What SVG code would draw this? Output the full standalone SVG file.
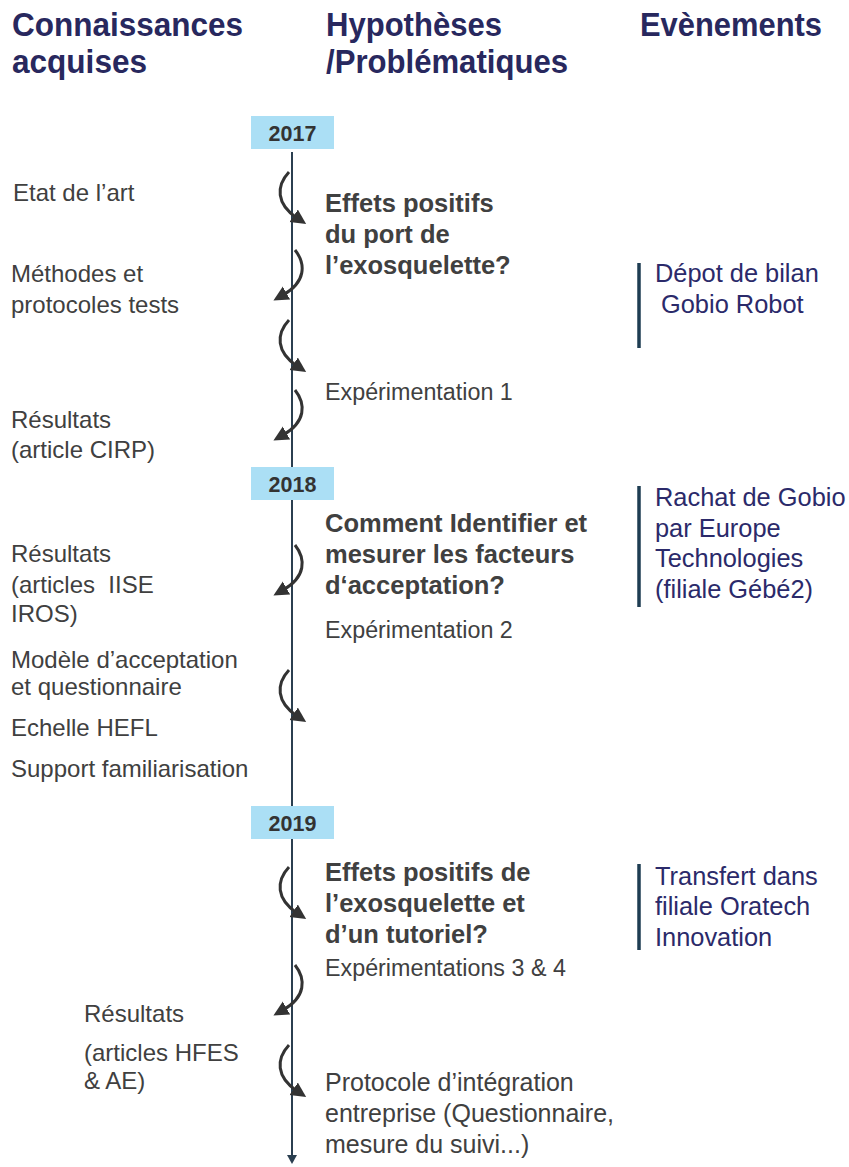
<svg xmlns="http://www.w3.org/2000/svg" width="849" height="1167" viewBox="0 0 849 1167">
<style>
.hdr{font-family:"Liberation Sans",Arial,sans-serif;font-weight:bold;font-size:34px;fill:#28285e}
.lt{font-family:"Liberation Sans",Arial,sans-serif;font-size:24px;fill:#404040}
.xp{font-family:"Liberation Sans",Arial,sans-serif;font-size:23.3px;fill:#404040}
.pr{font-family:"Liberation Sans",Arial,sans-serif;font-size:25px;fill:#404040}
.bt{font-family:"Liberation Sans",Arial,sans-serif;font-weight:bold;font-size:25.5px;fill:#404040}
.ev{font-family:"Liberation Sans",Arial,sans-serif;font-size:25.4px;fill:#2b2a6a}
.yr{font-family:"Liberation Sans",Arial,sans-serif;font-weight:bold;font-size:21.5px;fill:#333333;text-anchor:middle}
.ybox{fill:#abdff5}
.bar{stroke:#1e3d52;stroke-width:3.5}
.arc{fill:none;stroke:#333333;stroke-width:3}
</style>
<defs>
<marker id="ah" markerUnits="userSpaceOnUse" markerWidth="17" markerHeight="17" refX="4" refY="7.5" orient="auto">
<path d="M0,0 L15,7.5 L0,15 z" fill="#333333"/>
</marker>
<marker id="tl" markerUnits="userSpaceOnUse" markerWidth="12" markerHeight="12" refX="2" refY="5" orient="auto">
<path d="M0,0 L9,5 L0,10 z" fill="#2b3f50"/>
</marker>
</defs>
<g id="headers">
<text class="hdr" x="12" y="36" textLength="231" lengthAdjust="spacingAndGlyphs">Connaissances</text>
<text class="hdr" x="12" y="73" textLength="135" lengthAdjust="spacingAndGlyphs">acquises</text>
<text class="hdr" x="326" y="36" textLength="176" lengthAdjust="spacingAndGlyphs">Hypothèses</text>
<text class="hdr" x="326" y="73" textLength="242" lengthAdjust="spacingAndGlyphs">/Problématiques</text>
<text class="hdr" x="640" y="36" textLength="182" lengthAdjust="spacingAndGlyphs">Evènements</text>
</g>
<g id="connectors">
<line x1="292" y1="152" x2="292" y2="1157" stroke="#2b3f50" stroke-width="2" marker-end="url(#tl)"/>
<path class="arc" d="M289,172 C276,186 276,204 297,218" marker-end="url(#ah)"/>
<path class="arc" d="M295,250 C306,264 306,282 283,295" marker-end="url(#ah)"/>
<path class="arc" d="M289,320 C276,334 276,352 297,366" marker-end="url(#ah)"/>
<path class="arc" d="M295,390 C306,404 306,422 283,435" marker-end="url(#ah)"/>
<path class="arc" d="M295,545 C306,559 306,577 283,590" marker-end="url(#ah)"/>
<path class="arc" d="M289,670 C276,684 276,702 297,716" marker-end="url(#ah)"/>
<path class="arc" d="M289,867 C276,881 276,899 297,913" marker-end="url(#ah)"/>
<path class="arc" d="M295,965 C306,979 306,997 283,1010" marker-end="url(#ah)"/>
<path class="arc" d="M289,1045 C276,1059 276,1077 297,1091" marker-end="url(#ah)"/>
</g>
<g id="year-2017"><rect class="ybox" x="251" y="116" width="83" height="33"/><text class="yr" x="292.5" y="141">2017</text></g>
<g id="year-2018"><rect class="ybox" x="251" y="467" width="83" height="33"/><text class="yr" x="292.5" y="492">2018</text></g>
<g id="year-2019"><rect class="ybox" x="251" y="806" width="83" height="33"/><text class="yr" x="292.5" y="831">2019</text></g>
<g id="k-etat"><text class="lt" x="13" y="201">Etat de l’art</text></g>
<g id="k-methodes"><text class="lt" x="11" y="282">Méthodes et</text><text class="lt" x="11" y="313">protocoles tests</text></g>
<g id="k-resultats1"><text class="lt" x="11" y="428">Résultats</text><text class="lt" x="11" y="458">(article CIRP)</text></g>
<g id="k-resultats2"><text class="lt" x="11" y="562">Résultats</text><text class="lt" x="11" y="593" xml:space="preserve">(articles  IISE</text><text class="lt" x="11" y="622">IROS)</text></g>
<g id="k-modele"><text class="lt" x="11" y="668">Modèle d’acceptation</text><text class="lt" x="11" y="695">et questionnaire</text></g>
<g id="k-echelle"><text class="lt" x="11" y="736">Echelle HEFL</text></g>
<g id="k-support"><text class="lt" x="11" y="777">Support familiarisation</text></g>
<g id="k-resultats3"><text class="lt" x="84" y="1022">Résultats</text><text class="lt" x="84" y="1061">(articles HFES</text><text class="lt" x="84" y="1089">&amp; AE)</text></g>
<g id="h-effets1"><text class="bt" x="325" y="212">Effets positifs</text><text class="bt" x="325" y="243">du port de</text><text class="bt" x="325" y="274">l’exosquelette?</text></g>
<g id="h-exp1"><text class="xp" x="325" y="400">Expérimentation 1</text></g>
<g id="h-comment"><text class="bt" x="325" y="532">Comment Identifier et</text><text class="bt" x="325" y="563">mesurer les facteurs</text><text class="bt" x="325" y="594">d‘acceptation?</text></g>
<g id="h-exp2"><text class="xp" x="325" y="638">Expérimentation 2</text></g>
<g id="h-effets2"><text class="bt" x="325" y="881">Effets positifs de</text><text class="bt" x="325" y="912">l’exosquelette et</text><text class="bt" x="325" y="943">d’un tutoriel?</text></g>
<g id="h-exp34"><text class="xp" x="325" y="976">Expérimentations 3 &amp; 4</text></g>
<g id="h-protocole"><text class="pr" x="325" y="1091">Protocole d’intégration</text><text class="pr" x="325" y="1122">entreprise (Questionnaire,</text><text class="pr" x="325" y="1153">mesure du suivi...)</text></g>
<g id="e-depot"><line class="bar" x1="639" y1="263" x2="639" y2="348"/><text class="ev" x="655" y="282">Dépot de bilan</text><text class="ev" x="661" y="313">Gobio Robot</text></g>
<g id="e-rachat"><line class="bar" x1="639" y1="486" x2="639" y2="607"/><text class="ev" x="655" y="506">Rachat de Gobio</text><text class="ev" x="655" y="537">par Europe</text><text class="ev" x="655" y="567">Technologies</text><text class="ev" x="655" y="598">(filiale Gébé2)</text></g>
<g id="e-transfert"><line class="bar" x1="639" y1="864" x2="639" y2="950"/><text class="ev" x="655" y="885">Transfert dans</text><text class="ev" x="655" y="915">filiale Oratech</text><text class="ev" x="655" y="946">Innovation</text></g>
</svg>
